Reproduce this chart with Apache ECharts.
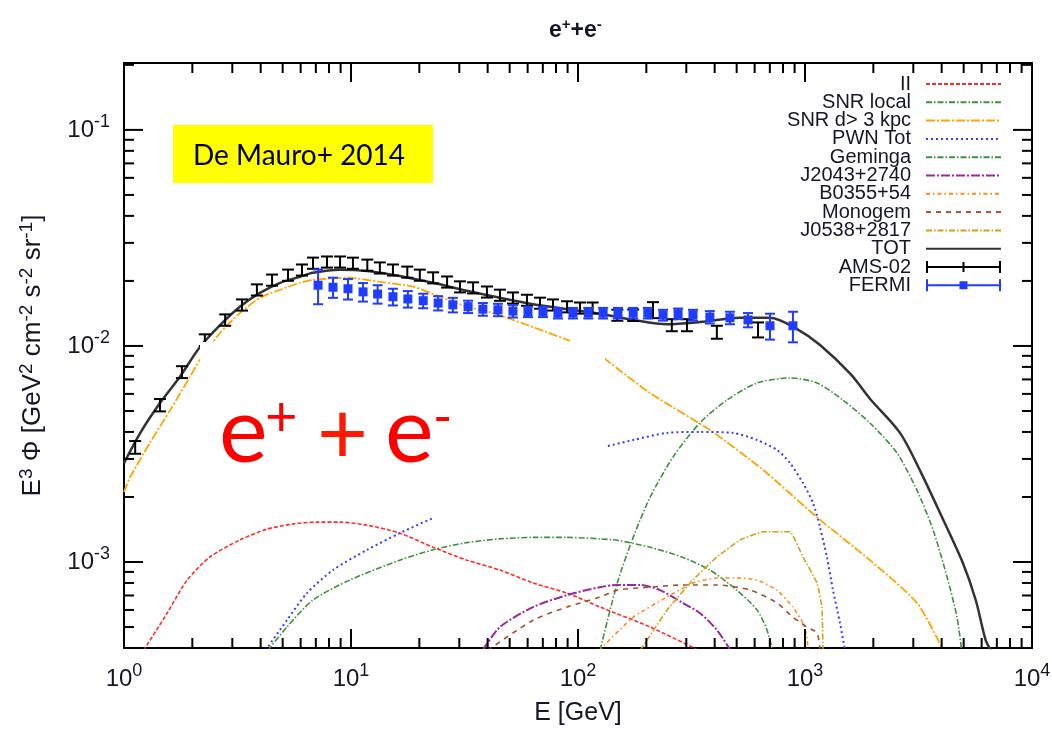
<!DOCTYPE html>
<html>
<head>
<meta charset="utf-8">
<script src="https://cdn.jsdelivr.net/npm/echarts@6/dist/echarts.min.js"></script>
<style>
  html, body { margin: 0; padding: 0; background: #fff; }
  #chart { width: 1052px; height: 731px; }
</style>
</head>
<body>
<div id="chart"></div>
<script>
// Axis extents (GeV on x, E^3 flux on y)
const X_MIN = 1, X_MAX = 1e4;
const Y_MIN = 4.0e-4, Y_MAX = 0.204;

// Tick positions (gnuplot-style border ticks)
const xMajorTicks = [10, 100, 1000];
const xMinorTicks = [2, 3, 4, 5, 6, 7, 8, 9, 20, 30, 40, 50, 60, 70, 80, 90,
  200, 300, 400, 500, 600, 700, 800, 900, 2000, 3000, 4000, 5000, 6000, 7000, 8000, 9000];
const yMajorTicks = [1e-3, 1e-2, 1e-1];
const yMinorTicks = [5e-4, 6e-4, 7e-4, 8e-4, 9e-4, 2e-3, 3e-3, 4e-3, 5e-3, 6e-3, 7e-3, 8e-3, 9e-3,
  2e-2, 3e-2, 4e-2, 5e-2, 6e-2, 7e-2, 8e-2, 9e-2, 0.2];

// Model components: energy [GeV] and E^3 flux; null marks a break in the curve
const iiE    = [1.22, 1.55, 1.90, 2.39, 3.24, 4.27, 5.55, 7.08, 8.95, 11.8, 16.4, 23.0, 32.4, 45.3, 63.4, 89.5, 125, 208, 340];
const iiFlux = [3.9e-4, 5.81e-4, 8.26e-4, 1.055e-3, 1.265e-3, 1.42e-3, 1.50e-3, 1.53e-3, 1.53e-3, 1.48e-3, 1.36e-3, 1.17e-3, 1.02e-3, 9.18e-4, 8.0e-4, 7.18e-4, 6.19e-4, 5.0e-4, 3.9e-4];

const snrLocalE    = [125, 149, 175, 208, 262, 344, 453, 615, 859, 1130, 1469, 1932, 2541, 3112, 3664, 4224, 4673, 4900];
const snrLocalFlux = [3.9e-4, 8.0e-4, 1.30e-3, 2.0e-3, 3.06e-3, 4.40e-3, 5.62e-3, 6.74e-3, 7.11e-3, 6.74e-3, 5.62e-3, 4.40e-3, 3.20e-3, 2.15e-3, 1.41e-3, 8.53e-4, 5.56e-4, 3.9e-4];

const snrFarE    = [1.0, 1.06, 1.30, 1.60, 1.95, 2.16, 2.65, 3.24, 3.97, 4.87, 5.96, 6.80, 9.60, 13.4, 18.8, 24.7, 32.4, 42.2, 51.7, 68.0, 92.2, null, 130, 208, 381, 653, 1130, 1932, 3112, 4014];
const snrFarFlux = [2.11e-3, 2.45e-3, 3.56e-3, 5.06e-3, 7.18e-3, 8.61e-3, 1.148e-2, 1.42e-2, 1.67e-2, 1.82e-2, 1.96e-2, 2.02e-2, 2.07e-2, 1.98e-2, 1.88e-2, 1.69e-2, 1.52e-2, 1.42e-2, 1.32e-2, 1.19e-2, 1.055e-2, null, 8.8e-3, 6.05e-3, 4.08e-3, 2.67e-3, 1.61e-3, 1.02e-3, 6.46e-4, 4.0e-4];

const pwnE    = [4.2, 5.22, 6.40, 8.33, 11.8, 16.4, 23.0, null, 129, 175, 247, 344, 482, 615, 753, 859, 980, 1084, 1164, 1250, 1328, 1426, 1500];
const pwnFlux = [3.9e-4, 5.38e-4, 7.18e-4, 9.18e-4, 1.14e-3, 1.36e-3, 1.60e-3, null, 3.40e-3, 3.67e-3, 3.96e-3, 4.00e-3, 3.96e-3, 3.67e-3, 3.30e-3, 2.87e-3, 2.32e-3, 1.88e-3, 1.45e-3, 1.05e-3, 7.41e-4, 5.22e-4, 3.9e-4];

const gemingaE    = [4.3, 5.22, 6.80, 9.90, 16.4, 23.0, 32.4, 45.3, 63.4, 89.5, 125, 149, 208, 290, 381, 501, 615, 680, 720];
const gemingaFlux = [3.9e-4, 5.0e-4, 6.67e-4, 8.26e-4, 1.02e-3, 1.14e-3, 1.23e-3, 1.28e-3, 1.30e-3, 1.30e-3, 1.28e-3, 1.26e-3, 1.17e-3, 1.05e-3, 9.18e-4, 7.41e-4, 6.0e-4, 4.85e-4, 3.9e-4];

const j2043E    = [38, 45.3, 63.4, 89.5, 125, 149, 188, 230, 290, 344, 409, 470];
const j2043Flux = [3.9e-4, 5.0e-4, 6.19e-4, 7.03e-4, 7.65e-4, 7.83e-4, 7.83e-4, 7.41e-4, 6.46e-4, 5.81e-4, 4.85e-4, 3.9e-4];

const b0355E    = [124, 175, 247, 321, 409, 501, 615, 753, 885, 980, 1020, 1030];
const b0355Flux = [3.9e-4, 5.56e-4, 6.89e-4, 8.0e-4, 8.44e-4, 8.44e-4, 8.26e-4, 7.41e-4, 6.19e-4, 5.22e-4, 4.5e-4, 3.9e-4];

const monogemE    = [40, 63.4, 89.5, 125, 149, 208, 290, 409, 573, 753, 885, 1020, 1130, 1164];
const monogemFlux = [3.9e-4, 5.38e-4, 6.19e-4, 6.89e-4, 7.41e-4, 7.65e-4, 7.83e-4, 7.83e-4, 7.41e-4, 6.46e-4, 5.56e-4, 5.0e-4, 4.69e-4, 3.9e-4];

const j0538E    = [188, 247, 321, 409, 517, 653, 859, 980, 1130, 1188, 1200];
const j0538Flux = [3.9e-4, 6.0e-4, 8.26e-4, 1.055e-3, 1.265e-3, 1.38e-3, 1.38e-3, 1.055e-3, 8.0e-4, 6.19e-4, 3.9e-4];

const totE    = [1.0, 1.18, 1.44, 1.76, 2.16, 2.65, 3.24, 3.97, 4.87, 5.96, 6.80, 8.95, 11.8, 16.4, 23.0, 32.4, 45.3, 63.4, 89.5, 125, 175, 247, 344, 518, 700, 919, 1165, 1589, 1932, 2621, 3252, 4015, 4960, 5650, 6250, 6600];
const totFlux = [2.87e-3, 3.96e-3, 5.44e-3, 7.18e-3, 9.89e-3, 1.25e-2, 1.52e-2, 1.76e-2, 1.96e-2, 2.09e-2, 2.18e-2, 2.25e-2, 2.22e-2, 2.11e-2, 1.96e-2, 1.80e-2, 1.67e-2, 1.56e-2, 1.48e-2, 1.41e-2, 1.32e-2, 1.26e-2, 1.29e-2, 1.35e-2, 1.35e-2, 1.20e-2, 1.01e-2, 7.4e-3, 5.7e-3, 3.96e-3, 2.58e-3, 1.61e-3, 9.89e-4, 6.67e-4, 4.35e-4, 3.9e-4];

// Measurements
const amsE    = [1.12, 1.44, 1.80, 2.27, 2.79, 3.31, 3.85, 4.49, 5.28, 6.08, 6.80, 7.84, 8.95, 10.2, 11.8, 13.4, 15.3, 17.7, 20.1, 23.0, 26.5, 30.2, 34.5, 39.7, 45.3, 51.7, 59.6, 68.0, 77.6, 89.5, 102, 116, 149, 175, 214, 259, 302, 409, 621];
const amsFlux = [3.40e-3, 5.33e-3, 7.58e-3, 1.066e-2, 1.32e-2, 1.55e-2, 1.82e-2, 2.02e-2, 2.13e-2, 2.25e-2, 2.42e-2, 2.45e-2, 2.45e-2, 2.42e-2, 2.37e-2, 2.30e-2, 2.25e-2, 2.20e-2, 2.13e-2, 2.07e-2, 1.98e-2, 1.88e-2, 1.86e-2, 1.78e-2, 1.72e-2, 1.67e-2, 1.63e-2, 1.58e-2, 1.55e-2, 1.52e-2, 1.50e-2, 1.50e-2, 1.39e-2, 1.39e-2, 1.47e-2, 1.25e-2, 1.25e-2, 1.16e-2, 1.19e-2];
const amsErr  = [2.3e-4, 3.5e-4, 4.8e-4, 6.6e-4, 8.0e-4, 9.2e-4, 1.08e-3, 1.2e-3, 1.27e-3, 1.33e-3, 1.44e-3, 1.45e-3, 1.45e-3, 1.43e-3, 1.40e-3, 1.36e-3, 1.33e-3, 1.30e-3, 1.26e-3, 1.22e-3, 1.17e-3, 1.11e-3, 1.10e-3, 1.05e-3, 1.02e-3, 9.9e-4, 9.6e-4, 9.3e-4, 9.2e-4, 9.0e-4, 8.9e-4, 8.9e-4, 8.2e-4, 8.5e-4, 1.25e-3, 8.0e-4, 8.0e-4, 8.0e-4, 9.5e-4];

const fermiE    = [7.16, 8.33, 9.70, 11.3, 13.1, 15.3, 17.8, 20.8, 24.2, 28.1, 32.8, 38.1, 44.4, 51.7, 60.2, 70.1, 81.6, 95.0, 111, 129, 150, 175, 203, 237, 276, 321, 381, 467, 561, 701, 885];
const fermiFlux = [1.91e-2, 1.87e-2, 1.84e-2, 1.78e-2, 1.74e-2, 1.69e-2, 1.65e-2, 1.62e-2, 1.58e-2, 1.55e-2, 1.52e-2, 1.48e-2, 1.47e-2, 1.45e-2, 1.44e-2, 1.44e-2, 1.42e-2, 1.42e-2, 1.42e-2, 1.42e-2, 1.42e-2, 1.42e-2, 1.42e-2, 1.39e-2, 1.41e-2, 1.39e-2, 1.36e-2, 1.35e-2, 1.32e-2, 1.24e-2, 1.24e-2];
const fermiErr  = [3.5e-3, 2.0e-3, 2.0e-3, 1.75e-3, 1.7e-3, 1.5e-3, 1.45e-3, 1.25e-3, 1.2e-3, 1.2e-3, 1.0e-3, 1.0e-3, 9.7e-4, 9.6e-4, 8.0e-4, 8.0e-4, 8.0e-4, 8.0e-4, 8.0e-4, 8.0e-4, 8.0e-4, 8.0e-4, 8.0e-4, 8.0e-4, 8.0e-4, 8.0e-4, 9.0e-4, 9.0e-4, 1.0e-3, 1.7e-3, 2.0e-3];

const FONT = 'Liberation Sans';
const TEXT = '#16162a';

function pairs(xs, ys) {
  return xs.map((x, i) => (x == null || ys[i] == null) ? '-' : [x, ys[i]]);
}

function curve(name, xs, ys, color, dash, width, smooth) {
  return {
    name, type: 'line', data: pairs(xs, ys),
    symbol: 'none', showSymbol: false, smooth: smooth, connectNulls: false,
    lineStyle: { color, width, type: dash },
    itemStyle: { color }, silent: true, z: 2
  };
}

function errorBars(color, cap, marker) {
  return function (params, api) {
    const e = api.value(0);
    const c = api.coord([e, api.value(1)]);
    const lo = api.coord([e, api.value(2)]);
    const hi = api.coord([e, api.value(3)]);
    const st = () => ({ stroke: color, lineWidth: 2, fill: null });
    const kids = [
      { type: 'line', shape: { x1: c[0], y1: hi[1], x2: c[0], y2: lo[1] }, style: st() },
      { type: 'line', shape: { x1: c[0] - cap, y1: hi[1], x2: c[0] + cap, y2: hi[1] }, style: st() },
      { type: 'line', shape: { x1: c[0] - cap, y1: lo[1], x2: c[0] + cap, y2: lo[1] }, style: st() }
    ];
    if (marker) {
      kids.push({ type: 'rect', shape: { x: c[0] - 4.5, y: c[1] - 4.5, width: 9, height: 9 }, style: { fill: color } });
    }
    return { type: 'group', children: kids };
  };
}

function measurement(name, es, fs, errs, color, cap, marker) {
  return {
    name, type: 'custom', renderItem: errorBars(color, cap, marker),
    data: es.map((e, i) => [e, fs[i], fs[i] - errs[i], fs[i] + errs[i]]),
    encode: { x: 0, y: 1 }, itemStyle: { color }, silent: true, z: 3
  };
}

// Border ticks drawn inward on all four sides
const tickData = []
  .concat(xMajorTicks.map(v => [v, Y_MIN, 0]))
  .concat(xMinorTicks.map(v => [v, Y_MIN, 1]))
  .concat(yMajorTicks.map(v => [X_MIN, v, 2]))
  .concat(yMinorTicks.map(v => [X_MIN, v, 3]));

function tickItem(params, api) {
  const kind = api.value(2);
  const st = () => ({ stroke: '#000', lineWidth: 2 });
  if (kind < 2) {
    const v = api.value(0);
    const b = api.coord([v, Y_MIN]);
    const t = api.coord([v, Y_MAX]);
    const L = kind === 0 ? 19 : 10;
    return { type: 'group', children: [
      { type: 'line', shape: { x1: b[0], y1: b[1], x2: b[0], y2: b[1] - L }, style: st() },
      { type: 'line', shape: { x1: t[0], y1: t[1], x2: t[0], y2: t[1] + L }, style: st() }
    ] };
  }
  const v = api.value(1);
  const l = api.coord([X_MIN, v]);
  const r = api.coord([X_MAX, v]);
  const L = kind === 2 ? 19 : 10;
  return { type: 'group', children: [
    { type: 'line', shape: { x1: l[0], y1: l[1], x2: l[0] + L, y2: l[1] }, style: st() },
    { type: 'line', shape: { x1: r[0], y1: r[1], x2: r[0] - L, y2: r[1] }, style: st() }
  ] };
}

const powRich = {
  b: { fontFamily: FONT, fontSize: 24, lineHeight: 34, color: TEXT },
  s: { fontFamily: FONT, fontSize: 18, lineHeight: 18, padding: [0, 0, 16, 0], color: TEXT }
};
function powLabel(v) {
  const p = Math.log10(v);
  const n = Math.round(p);
  if (Math.abs(p - n) > 1e-6) return '';
  return '{b|10}{s|' + n + '}';
}

const borderLine = { show: true, lineStyle: { color: '#000', width: 2 } };
const hidden = { show: false };

// Legend: line entries show only their dash pattern, data entries an error-bar glyph
const lineOnly = { opacity: 0 };
const amsIcon = 'path://M0 0h2v12h-2z M73 0h2v12h-2z M36.5 1h2v10h-2z M0 5h75v2h-75z';
const fermiIcon = 'path://M0 0h2v12h-2z M73 0h2v12h-2z M0 5h75v2h-75z M33.5 2h8v8h-8z';
const legendNames = ['II', 'SNR local', 'SNR d> 3 kpc', 'PWN Tot', 'Geminga', 'J2043+2740',
  'B0355+54', 'Monogem', 'J0538+2817', 'TOT'];

const chart = echarts.init(document.getElementById('chart'), null, { renderer: 'canvas' });

chart.setOption({
  animation: false,
  backgroundColor: '#fff',
  title: {
    text: '{b|e}{s|+}{b|+e}{s|-}',
    left: 544, top: 12,
    textStyle: {
      rich: {
        b: { fontFamily: FONT, fontSize: 23, lineHeight: 28, color: TEXT },
        s: { fontFamily: FONT, fontSize: 15, lineHeight: 15, padding: [0, 0, 13, 0], color: TEXT }
      }
    }
  },
  grid: { left: 124, right: 20, top: 63, bottom: 83, containLabel: false, outerBoundsMode: 'none' },
  legend: {
    orient: 'vertical', right: 50, top: 74, align: 'right', padding: 0,
    itemGap: -1.7, itemWidth: 75, itemHeight: 12, selectedMode: false,
    textStyle: { fontFamily: FONT, fontSize: 20, color: TEXT, lineHeight: 16, padding: [0, 10, 0, 0] },
    data: legendNames.map(n => ({ name: n, itemStyle: lineOnly }))
      .concat([{ name: 'AMS-02', icon: amsIcon }, { name: 'FERMI', icon: fermiIcon }])
  },
  xAxis: [
    {
      type: 'log', logBase: 10, min: X_MIN, max: X_MAX, position: 'bottom',
      axisLine: borderLine, axisTick: hidden, splitLine: hidden, minorTick: hidden,
      axisLabel: { formatter: powLabel, rich: powRich, margin: 14 },
      name: 'E [GeV]', nameLocation: 'middle', nameGap: 53, nameMoveOverlap: false,
      nameTextStyle: { fontFamily: FONT, fontSize: 25, color: TEXT }
    },
    {
      type: 'log', logBase: 10, min: X_MIN, max: X_MAX, position: 'top',
      axisLine: borderLine, axisTick: hidden, splitLine: hidden, axisLabel: hidden
    }
  ],
  yAxis: [
    {
      type: 'log', logBase: 10, min: Y_MIN, max: Y_MAX, position: 'left',
      axisLine: borderLine, axisTick: hidden, splitLine: hidden, minorTick: hidden,
      axisLabel: { formatter: powLabel, rich: powRich, margin: 14 },
      name: '{b|E}{s|3}{b| Φ [GeV}{s|2}{b| cm}{s|-2}{b| s}{s|-2}{b| sr}{s|-1}{b|]}',
      nameLocation: 'middle', nameGap: 75, nameMoveOverlap: false,
      nameTextStyle: {
        rich: {
          b: { fontFamily: FONT, fontSize: 26, lineHeight: 32, color: TEXT },
          s: { fontFamily: FONT, fontSize: 19, lineHeight: 19, padding: [0, 0, 13, 0], color: TEXT }
        }
      }
    },
    {
      type: 'log', logBase: 10, min: Y_MIN, max: Y_MAX, position: 'right',
      axisLine: borderLine, axisTick: hidden, splitLine: hidden, axisLabel: hidden
    }
  ],
  series: [
    curve('II', iiE, iiFlux, '#ff2a2a', [4, 2], 1.6, 0.25),
    curve('SNR local', snrLocalE, snrLocalFlux, '#3d923d', [6, 2, 1.5, 2], 1.6, 0.25),
    curve('SNR d> 3 kpc', snrFarE, snrFarFlux, '#ffa500', [9, 2, 2, 2], 1.8, 0.25),
    curve('PWN Tot', pwnE, pwnFlux, '#3a3aff', [2, 3], 2, 0.25),
    curve('Geminga', gemingaE, gemingaFlux, '#3d923d', [6, 2, 1.5, 2], 1.6, 0.25),
    curve('J2043+2740', j2043E, j2043Flux, '#9a2a9a', [9, 2, 2, 2], 2, 0.25),
    curve('B0355+54', b0355E, b0355Flux, '#ff8c1a', [4, 3, 1.5, 3], 1.6, 0.15),
    curve('Monogem', monogemE, monogemFlux, '#a0522d', [5, 5], 1.6, 0.25),
    curve('J0538+2817', j0538E, j0538Flux, '#d4a017', [6, 2, 1.5, 2], 1.6, 0.1),
    curve('TOT', totE, totFlux, '#333333', 'solid', 2.5, 0.3),
    measurement('AMS-02', amsE, amsFlux, amsErr, '#000000', 6, false),
    measurement('FERMI', fermiE, fermiFlux, fermiErr, '#1f3cff', 5, true),
    {
      name: 'ticks', type: 'custom', renderItem: tickItem, data: tickData,
      encode: { x: 0, y: 1 }, silent: true, z: 5
    }
  ],
  graphic: [
    { type: 'rect', x: 200, y: 342, shape: { width: 405, height: 176 }, style: { fill: '#ffffff' }, z: 50 },
    { type: 'rect', x: 173, y: 125, shape: { width: 260, height: 58 }, style: { fill: '#ffff00' }, z: 50 },
    { type: 'text', x: 193, y: 156, z: 51,
      style: { text: 'De Mauro+ 2014', font: '28px Lato', fill: '#000', textAlign: 'left', textVerticalAlign: 'middle', align: 'left', verticalAlign: 'middle' } },
    { type: 'text', x: 219, y: 432, z: 51,
      style: { text: 'e', font: '92px Lato', fill: '#ff0000', textAlign: 'left', textVerticalAlign: 'middle', align: 'left', verticalAlign: 'middle' } },
    { type: 'text', x: 265, y: 418, z: 51,
      style: { text: '+', font: '56px Lato', fill: '#ff0000', textAlign: 'left', textVerticalAlign: 'middle', align: 'left', verticalAlign: 'middle' } },
    { type: 'text', x: 317, y: 436, z: 51,
      style: { text: '+', font: '88px Lato', fill: '#ff1a00', textAlign: 'left', textVerticalAlign: 'middle', align: 'left', verticalAlign: 'middle' } },
    { type: 'text', x: 385, y: 432, z: 51,
      style: { text: 'e', font: '92px Lato', fill: '#ff0000', textAlign: 'left', textVerticalAlign: 'middle', align: 'left', verticalAlign: 'middle' } },
    { type: 'text', x: 433, y: 418, z: 51,
      style: { text: '-', font: '52px Lato', fill: '#ff0000', textAlign: 'left', textVerticalAlign: 'middle', align: 'left', verticalAlign: 'middle' } }
  ]
});
</script>
</body>
</html>
